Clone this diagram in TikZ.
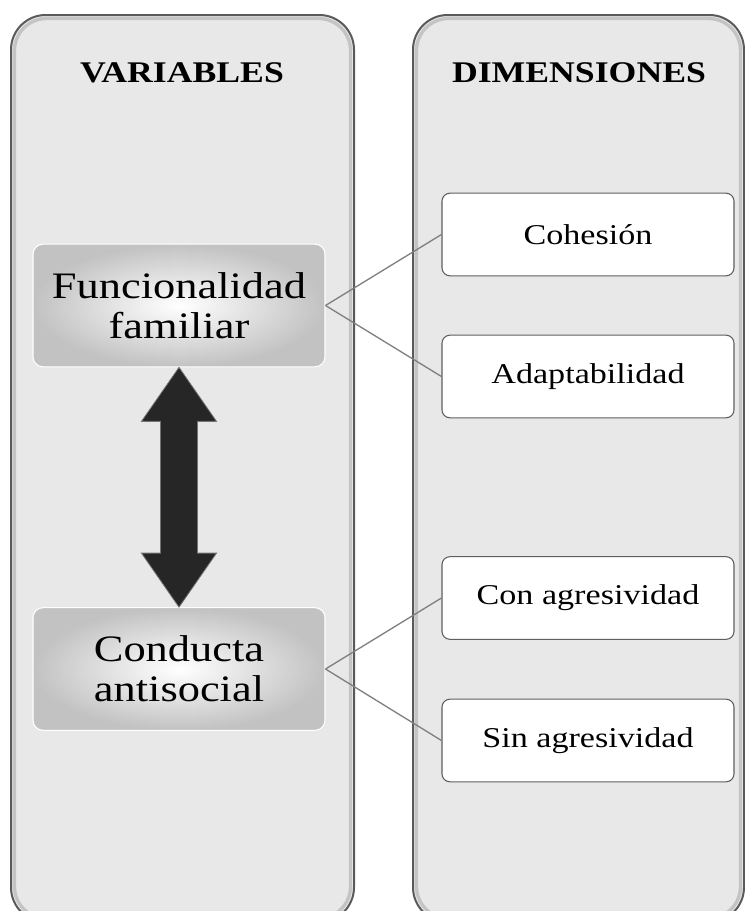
\documentclass[tikz,border=0pt]{standalone}
\usepackage{fontspec}
\setmainfont{Liberation Serif}[FakeStretch=1.19]
\usepackage{tikz}
\usetikzlibrary{calc}
\definecolor{columnfill}{HTML}{E8E8E8}
\definecolor{columnedge}{HTML}{5A5A5A}
\definecolor{columnbevel}{HTML}{C4C4C4}
\definecolor{boxedge}{HTML}{5F5F5F}
\definecolor{linkgray}{HTML}{808080}
\definecolor{arrowfill}{HTML}{262626}

\begin{document}
\begin{tikzpicture}[x=0.75pt, y=-0.75pt,
        column/.style={fill=columnfill, draw=columnedge, line width=1.5pt, rounded corners=26pt},
        bevel/.style={draw=columnbevel, line width=2.5pt, rounded corners=24pt},
        header/.style={font=\fontsize{22.5}{26}\selectfont\bfseries},
        varbox/.style={rounded corners=7.5pt, draw=white, line width=0.8pt,
            inner color=white, outer color=black!24, align=center, inner sep=0pt,
            minimum width=219pt, minimum height=92pt, font=\fontsize{28}{30}\selectfont},
        dimbox/.style={rounded corners=6pt, draw=boxedge, fill=white, line width=0.8pt,
            inner sep=0pt, minimum width=219pt, minimum height=62pt,
            font=\fontsize{21.5}{24}\selectfont},
        link/.style={draw=linkgray, line width=1pt}]
            % frame
            \useasboundingbox (0,0) rectangle (745,911);
            % columns
            \draw[column] (11,15) rectangle (354,922);
            \draw[bevel] (14.5,18.5) rectangle (350.5,918.5);
            \draw[column] (413,15) rectangle (744,922);
            \draw[bevel] (416.5,18.5) rectangle (740.5,918.5);
            % headers
            \node[header] (varhead) at (182,73) {VARIABLES};
            \node[header] (dimhead) at (579,73) {DIMENSIONES};
            % variables
            \node[varbox] (funcional) at (179,305.5) {Funcionalidad\\familiar};
            \node[varbox] (conducta) at (179,669) {Conducta\\antisocial};
            % dimensions
            \node[dimbox] (cohesion) at (588,234.5) {Cohesión};
            \node[dimbox] (adapta) at (588,376.5) {Adaptabilidad};
            \node[dimbox] (conagr) at (588,598) {Con agresividad};
            \node[dimbox] (sinagr) at (588,740.5) {Sin agresividad};
            % links
            \draw[link] (funcional.east) -- (cohesion.west);
            \draw[link] (funcional.east) -- (adapta.west);
            \draw[link] (conducta.east) -- (conagr.west);
            \draw[link] (conducta.east) -- (sinagr.west);
            % double arrow
            \filldraw[fill=arrowfill, draw=black!55, line width=0.6pt]
                (funcional.south) -- ++(37.5,54) -- ++(-19,0)
                -- ($(conducta.north)+(18.5,-54)$) -- ++(19,0)
                -- (conducta.north) -- ++(-37.5,-54) -- ++(19,0)
                -- ($(funcional.south)+(-18.5,54)$) -- ++(-19,0) -- cycle;
        \end{tikzpicture}
\end{document}
